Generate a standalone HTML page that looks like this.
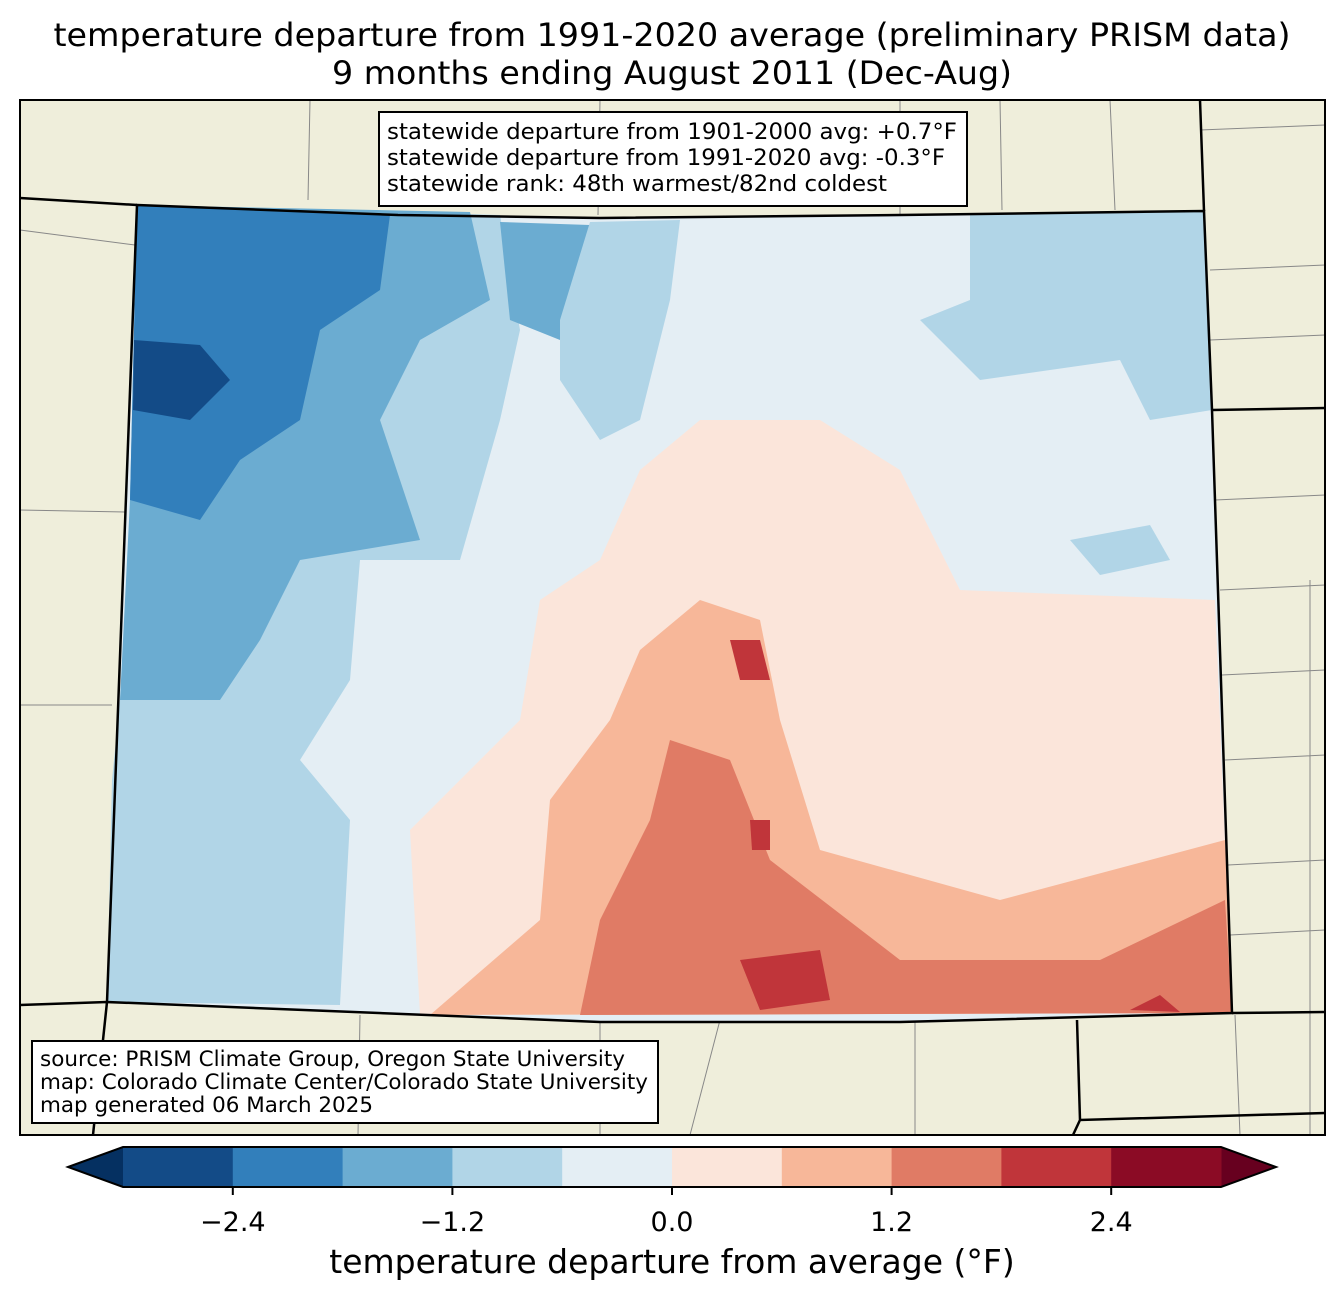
<!DOCTYPE html>
<html><head><meta charset="utf-8"><style>
html,body{margin:0;padding:0;background:#fff;}
svg{display:block;font-family:"DejaVu Sans","Liberation Sans",sans-serif;}
</style></head><body>
<svg id="chart" width="1344" height="1299" viewBox="0 0 1344 1299">
<text x="672" y="46" font-size="32" text-anchor="middle" textLength="1237" lengthAdjust="spacingAndGlyphs">temperature departure from 1991-2020 average (preliminary PRISM data)</text>
<text x="672" y="84" font-size="32" text-anchor="middle" textLength="680" lengthAdjust="spacingAndGlyphs">9 months ending August 2011 (Dec-Aug)</text>
<g>
<rect x="20" y="100" width="1305" height="1035" fill="#efeedb"/>
<g stroke="#888" stroke-width="1" fill="none">
<path d="M310,100 L308,200 M600,100 L598,215 M900,100 L900,215 M1000,100 L1002,210 M1110,100 L1115,210 M1200,130 L1325,125 M1210,270 L1325,265 M1210,340 L1325,335 M1215,500 L1325,495 M1220,590 L1325,585 M1222,675 L1325,670 M1225,760 L1325,755 M1228,865 L1325,860 M1230,935 L1325,930 M20,510 L125,512 M20,705 L112,705 M20,230 L135,245 M360,1015 L358,1135 M600,1020 L600,1135 M720,1020 L690,1135 M915,1020 L915,1135 M1235,1015 L1240,1135 M1310,580 L1310,1135"/>
</g>
<path d="M137,205 L398,215 L600,218 L900,215 L1204,211 L1212,410 L1232,1013 L900,1022 L600,1022 L107,1002 Z" fill="#e4eef4"/>
<g>
<path d="M137,205 L500,215 L520,330 L500,420 L460,560 L360,560 L350,680 L300,760 L350,820 L340,1005 L107,1002 L112,780 L130,600 Z" fill="#b1d5e7"/>
<path d="M137,205 L470,212 L490,300 L420,340 L380,420 L420,540 L300,560 L260,640 L220,700 L120,700 L130,500 Z" fill="#6bacd1"/>
<path d="M137,205 L390,215 L380,290 L320,330 L300,420 L240,460 L200,520 L130,500 Z" fill="#327fbb"/>
<path d="M134,340 L200,345 L230,380 L190,420 L133,410 Z" fill="#134b87"/>
<path d="M500,222 L590,225 L610,300 L560,340 L510,320 Z" fill="#6bacd1"/>
<path d="M590,222 L680,220 L670,300 L640,420 L600,440 L560,380 L560,320 Z" fill="#b1d5e7"/>
<path d="M970,214 L1204,211 L1212,410 L1150,420 L1120,360 L980,380 L920,320 L970,300 Z" fill="#b1d5e7"/>
<path d="M1070,540 L1150,525 L1170,560 L1100,575 Z" fill="#b1d5e7"/>
<path d="M700,420 L820,420 L900,470 L960,590 L1215,600 L1232,1013 L420,1015 L410,830 L520,720 L540,600 L600,560 L640,470 Z" fill="#fbe5da"/>
<path d="M430,1015 L540,920 L550,800 L610,720 L640,650 L700,600 L760,620 L780,720 L820,850 L1000,900 L1225,840 L1232,1013 Z" fill="#f7b799"/>
<path d="M580,1015 L600,920 L650,820 L670,740 L730,760 L770,860 L900,960 L1100,960 L1225,900 L1232,1013 Z" fill="#e07b65"/>
<path d="M730,640 L760,640 L770,680 L740,680 Z" fill="#c0353a"/>
<path d="M740,960 L820,950 L830,1000 L760,1010 Z" fill="#c0353a"/>
<path d="M1130,1010 L1160,995 L1180,1012 Z" fill="#c0353a"/>
<path d="M750,820 L770,820 L770,850 L752,850 Z" fill="#c0353a"/>
</g>
<path d="M137,205 L398,215 L600,218 L900,215 L1204,211 L1212,410 L1232,1013 L900,1022 L600,1022 L107,1002 Z" fill="none" stroke="#000" stroke-width="2.5"/>
<g stroke="#000" stroke-width="2.5" fill="none">
<path d="M20,198 L137,205 M1204,211 L1200,100 M1212,410 L1325,408 M1232,1013 L1325,1012 M107,1002 L20,1005 M107,1002 L93,1135 M1077,1020 L1080,1120 L1325,1113 M1080,1120 L1073,1135"/>
</g>
<rect x="20" y="100" width="1305" height="1035" fill="none" stroke="#000" stroke-width="2"/>
<g>
<rect x="379" y="112" width="588" height="94" fill="#fff" stroke="#000" stroke-width="2"/>
<text x="387" y="139" font-size="22" textLength="570" lengthAdjust="spacingAndGlyphs">statewide departure from 1901-2000 avg: +0.7°F</text>
<text x="387" y="165" font-size="22" textLength="558" lengthAdjust="spacingAndGlyphs">statewide departure from 1991-2020 avg: -0.3°F</text>
<text x="387" y="191" font-size="22" textLength="500" lengthAdjust="spacingAndGlyphs">statewide rank: 48th warmest/82nd coldest</text>
</g>
<g>
<rect x="32" y="1041" width="626" height="82" fill="#fff" stroke="#000" stroke-width="2"/>
<text x="40" y="1066" font-size="21" textLength="585" lengthAdjust="spacingAndGlyphs">source: PRISM Climate Group, Oregon State University</text>
<text x="40" y="1089" font-size="21" textLength="608" lengthAdjust="spacingAndGlyphs">map: Colorado Climate Center/Colorado State University</text>
<text x="40" y="1112" font-size="21" textLength="333" lengthAdjust="spacingAndGlyphs">map generated 06 March 2025</text>
</g>
</g>
<g id="colorbar"></g>
<text x="672" y="1273" font-size="33" text-anchor="middle">temperature departure from average (°F)</text>
</svg>
<script>
const levels = [-3.0,-2.4,-1.8,-1.2,-0.6,0.0,0.6,1.2,1.8,2.4,3.0];
const levelColors = ["#134b87","#327fbb","#6bacd1","#b1d5e7","#e4eef4","#fbe5da","#f7b799","#e07b65","#c0353a","#8b0b25"];
const extendColors = ["#053061","#67001f"];
const tickValues = [-2.4,-1.2,0.0,1.2,2.4];
const tickLabels = ["\u22122.4","\u22121.2","0.0","1.2","2.4"];
(function(){
  const NS="http://www.w3.org/2000/svg";
  const g=document.getElementById('colorbar');
  const x0=123,x1=1221,y0=1147,y1=1187;
  const sx=v=>x0+(v-levels[0])/(levels[levels.length-1]-levels[0])*(x1-x0);
  function mk(t,a){const e=document.createElementNS(NS,t);for(const k in a)e.setAttribute(k,a[k]);g.appendChild(e);return e;}
  const l=mk('polygon',{points:`${x0},${y0} ${x0},${y1} 68,${(y0+y1)/2}`,fill:extendColors[0]});
  
  
  const r=mk('polygon',{points:`${x1},${y0} ${x1},${y1} 1276,${(y0+y1)/2}`,fill:extendColors[1]});
  
  
  for(let i=0;i<levelColors.length;i++){
    const a=sx(levels[i]),b=sx(levels[i+1]);
    const s=mk('rect',{x:a,y:y0,width:b-a+0.5,height:y1-y0,fill:levelColors[i]});
    
    
  }
  const o=mk('polygon',{points:`68,${(y0+y1)/2} ${x0},${y0} ${x1},${y0} 1276,${(y0+y1)/2} ${x1},${y1} ${x0},${y1}`,fill:'none',stroke:'#000','stroke-width':2});
  
  
  tickValues.forEach((v,i)=>{
    const x=sx(v);
    const t=mk('line',{x1:x,x2:x,y1:y1,y2:y1+8,stroke:'#000','stroke-width':2});
    
    
    const tx=mk('text',{x:x,y:1231,'font-size':27,'text-anchor':'middle'});
    tx.textContent=tickLabels[i];
    
    
  });
})();
</script>
</body></html>
